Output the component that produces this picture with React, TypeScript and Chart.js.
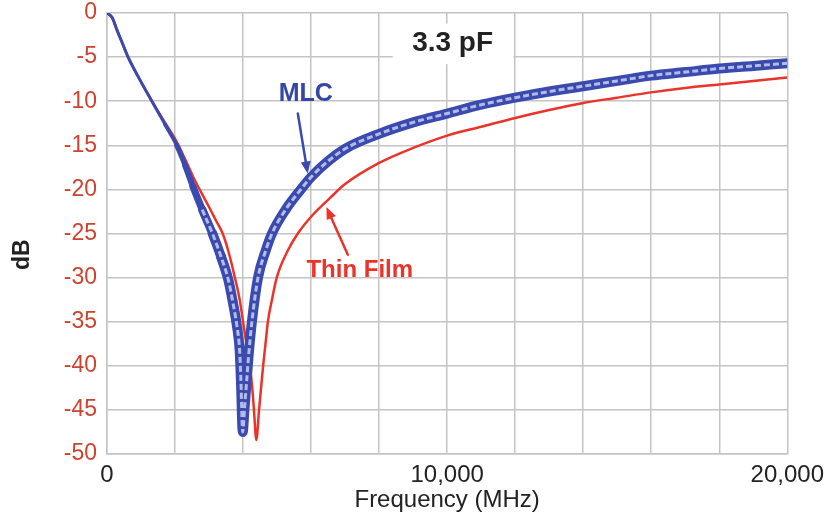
import React, { useEffect, useRef } from 'react';
import { Chart, registerables } from 'chart.js';

Chart.register(...registerables);

// ---- Data ----
const MLC_FREQ = [0, 150, 300, 450, 620, 900, 1320, 1700, 2050, 2300, 2530, 2800, 3100, 3350, 3570, 3700, 3820, 3900, 3940, 3990, 4040, 4100, 4160, 4260, 4440, 4670, 4850, 5250, 5700, 6000, 6500, 7000, 8000, 9000, 10000, 11000, 12000, 13000, 14000, 15000, 16000, 17000, 18000, 19000, 20000];
const MLC_DB = [0, -0.5, -2.0, -3.4, -5.0, -7.1, -10.0, -12.6, -15.0, -17.3, -19.7, -22.3, -25.0, -27.6, -30.3, -32.8, -35.5, -38.3, -42.0, -47.5, -45.0, -42.0, -39.0, -35.0, -30.0, -26.9, -25.0, -22.3, -20.0, -18.6, -16.8, -15.4, -13.7, -12.4, -11.4, -10.4, -9.6, -8.9, -8.3, -7.7, -7.1, -6.7, -6.3, -6.0, -5.7];

const TF_FREQ = [0, 150, 300, 450, 620, 900, 1320, 1700, 2050, 2300, 2550, 2750, 3000, 3200, 3400, 3560, 3760, 3900, 4000, 4100, 4200, 4270, 4320, 4390, 4470, 4530, 4590, 4660, 4730, 4850, 4990, 5320, 5610, 6000, 6550, 7000, 8000, 9000, 10000, 11000, 12000, 13000, 14000, 15000, 16000, 17000, 18000, 19000, 20000];
const TF_DB = [0, -0.5, -2.0, -3.4, -5.0, -7.1, -10.0, -12.4, -14.6, -16.6, -18.7, -20.2, -22.0, -23.5, -25.0, -26.9, -30.0, -32.5, -35.0, -37.5, -40.0, -42.5, -45.0, -48.4, -45.0, -42.5, -40.0, -37.5, -35.0, -32.5, -30.0, -26.9, -25.0, -23.1, -21.0, -19.4, -17.0, -15.3, -13.9, -12.9, -11.9, -11.0, -10.2, -9.6, -9.0, -8.5, -8.1, -7.7, -7.3];

const X_MIN = 0;
const X_MAX = 20000;
const X_STEP = 2000;
const X_LABELED_TICKS = [0, 10000, 20000];
const Y_MIN = -50;
const Y_MAX = 0;
const Y_STEP = 5;

const CAPACITANCE_LABEL = '3.3 pF';
const MLC_LABEL = 'MLC';
const TF_LABEL = 'Thin Film';
const X_TITLE = 'Frequency (MHz)';
const Y_TITLE = 'dB';

const FONT = "'Liberation Sans', Arial, Helvetica, sans-serif";
const BLUE = '#3a4aae';
const BLUE_TEXT = '#3447a8';
const BLUE_LIGHT = '#b3bbe8';
const RED = '#ec3329';
const RED_TICK = '#cc4330';
const GRID = '#c4c4c4';
const DARK = '#222222';

function toPoints(xs: number[], ys: number[]) {
  return xs.map((x, i) => ({ x, y: ys[i] }));
}

function bandWidth(f: number) {
  if (f <= 1700) return 3;
  if (f >= 3300) return 10;
  return 3 + ((f - 1700) / 1600) * 7;
}

function drawArrow(ctx: CanvasRenderingContext2D, x0: number, y0: number, x1: number, y1: number, color: string) {
  const ang = Math.atan2(y1 - y0, x1 - x0);
  const head = 12;
  const half = 5;
  ctx.save();
  ctx.strokeStyle = color;
  ctx.fillStyle = color;
  ctx.lineWidth = 2.5;
  ctx.lineCap = 'round';
  ctx.beginPath();
  ctx.moveTo(x0, y0);
  ctx.lineTo(x1 - Math.cos(ang) * head * 0.8, y1 - Math.sin(ang) * head * 0.8);
  ctx.stroke();
  ctx.beginPath();
  ctx.moveTo(x1, y1);
  ctx.lineTo(x1 - Math.cos(ang) * head - Math.sin(ang) * half, y1 - Math.sin(ang) * head + Math.cos(ang) * half);
  ctx.lineTo(x1 - Math.cos(ang) * head + Math.sin(ang) * half, y1 - Math.sin(ang) * head - Math.cos(ang) * half);
  ctx.closePath();
  ctx.fill();
  ctx.restore();
}

const annotationPlugin = {
  id: 'annotations',
  beforeDatasetsDraw(chart: any) {
    const { ctx, scales } = chart;
    const x = scales.x;
    const y = scales.y;
    // white box behind the capacitance label
    const l = x.getPixelForValue(8400);
    const r = x.getPixelForValue(11950);
    const t = y.getPixelForValue(-1.2);
    const b = y.getPixelForValue(-5.8);
    ctx.save();
    ctx.fillStyle = '#ffffff';
    ctx.fillRect(l, t, r - l, b - t);
    ctx.restore();
  },
  afterDatasetsDraw(chart: any) {
    const { ctx, scales } = chart;
    const x = scales.x;
    const y = scales.y;
    ctx.save();
    ctx.textAlign = 'center';
    ctx.textBaseline = 'middle';

    ctx.fillStyle = DARK;
    ctx.font = `bold 28px ${FONT}`;
    ctx.fillText(CAPACITANCE_LABEL, x.getPixelForValue(10160), y.getPixelForValue(-3.4));

    ctx.fillStyle = BLUE_TEXT;
    ctx.font = `bold 25px ${FONT}`;
    ctx.fillText(MLC_LABEL, x.getPixelForValue(5845), y.getPixelForValue(-9.2));

    ctx.fillStyle = RED;
    ctx.font = `bold 24px ${FONT}`;
    ctx.fillText(TF_LABEL, x.getPixelForValue(7430), y.getPixelForValue(-29.2));

    drawArrow(ctx, x.getPixelForValue(5610), y.getPixelForValue(-11.4), x.getPixelForValue(5900), y.getPixelForValue(-18.2), BLUE);
    drawArrow(ctx, x.getPixelForValue(7080), y.getPixelForValue(-27.4), x.getPixelForValue(6450), y.getPixelForValue(-22.0), RED);

    // y-axis title
    ctx.save();
    ctx.translate(23, y.getPixelForValue(-27.4));
    ctx.rotate(-Math.PI / 2);
    ctx.fillStyle = DARK;
    ctx.font = `bold 23px ${FONT}`;
    ctx.fillText(Y_TITLE, 0, 0);
    ctx.restore();

    ctx.restore();
  },
};

export default function App() {
  const canvasRef = useRef<HTMLCanvasElement | null>(null);

  useEffect(() => {
    const canvas = canvasRef.current;
    if (!canvas) return;
    const mlcPoints = toPoints(MLC_FREQ, MLC_DB);
    const tfPoints = toPoints(TF_FREQ, TF_DB);

    const chart = new Chart(canvas, {
      type: 'line',
      data: {
        datasets: [
          {
            label: 'MLC pattern',
            data: mlcPoints,
            borderColor: BLUE_LIGHT,
            borderWidth: 3,
            borderDash: [6, 3],
            pointRadius: 0,
            cubicInterpolationMode: 'monotone',
            segment: {
              borderColor: (c: any) => (c.p0.parsed.x >= 2800 ? BLUE_LIGHT : 'rgba(0,0,0,0)'),
            },
          },
          {
            label: 'MLC',
            data: mlcPoints,
            borderColor: BLUE,
            borderWidth: 3,
            borderCapStyle: 'round',
            borderJoinStyle: 'round',
            pointRadius: 0,
            cubicInterpolationMode: 'monotone',
            segment: {
              borderWidth: (c: any) => bandWidth((c.p0.parsed.x + c.p1.parsed.x) / 2),
            },
          },
          {
            label: 'Thin Film',
            data: tfPoints,
            borderColor: RED,
            borderWidth: 2.5,
            pointRadius: 0,
            cubicInterpolationMode: 'monotone',
          },
        ],
      },
      options: {
        animation: false,
        responsive: false,
        maintainAspectRatio: false,
        layout: { padding: { left: 0, top: 13, right: 43, bottom: 0 } },
        plugins: {
          legend: { display: false },
          tooltip: { enabled: false },
        },
        scales: {
          x: {
            type: 'linear',
            min: X_MIN,
            max: X_MAX,
            afterFit: (s: any) => {
              s.height = 72;
            },
            afterBuildTicks: (s: any) => {
              const ticks = [];
              for (let v = X_MIN; v <= X_MAX; v += X_STEP) ticks.push({ value: v });
              s.ticks = ticks;
            },
            ticks: {
              autoSkip: false,
              maxRotation: 0,
              padding: 7,
              color: DARK,
              font: { family: FONT, size: 24 },
              callback: (v: any) => (X_LABELED_TICKS.includes(Number(v)) ? Number(v).toLocaleString('en-US') : ''),
            },
            grid: { color: GRID, lineWidth: 1.5, drawTicks: false },
            border: { color: GRID, width: 1.5 },
            title: {
              display: true,
              text: X_TITLE,
              color: DARK,
              font: { family: FONT, size: 24 },
              padding: { top: 0, bottom: 11 },
            },
          },
          y: {
            type: 'linear',
            min: Y_MIN,
            max: Y_MAX,
            afterFit: (s: any) => {
              s.width = 107;
              s.paddingTop = 0;
            },
            ticks: {
              stepSize: Y_STEP,
              padding: 0,
              color: RED_TICK,
              font: { family: FONT, size: 23 },
            },
            grid: { color: GRID, lineWidth: 1.5, drawTicks: true, tickLength: 10, tickColor: 'rgba(0,0,0,0)' },
            border: { color: GRID, width: 1.5 },
          },
        },
      },
      plugins: [annotationPlugin],
    } as any);

    return () => {
      chart.destroy();
    };
  }, []);

  return (
    <div style={{ position: 'fixed', left: 0, top: 0, width: 831, height: 526, background: '#ffffff' }}>
      <canvas ref={canvasRef} width={831} height={526} style={{ display: 'block' }} />
    </div>
  );
}
